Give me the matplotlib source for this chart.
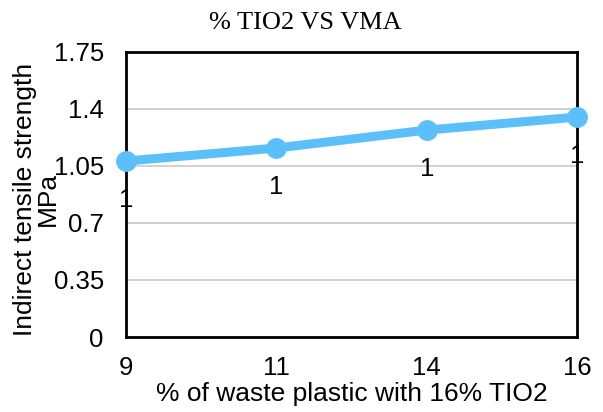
import matplotlib
matplotlib.use("Agg")
import matplotlib.pyplot as plt

# waste plastic content (%) and indirect tensile strength (MPa)
plastic_pct = ["9", "11", "14", "16"]
its_mpa = [1.08, 1.16, 1.27, 1.35]
y_ticks = [0, 0.35, 0.7, 1.05, 1.4, 1.75]
y_tick_labels = ["0", "0.35", "0.7", "1.05", "1.4", "1.75"]

plt.rcParams["font.family"] = "Liberation Sans"

fig = plt.figure(figsize=(6.03, 4.12), dpi=100)
ax = fig.add_axes([0.209, 0.182, 0.748, 0.692])

xs = range(len(plastic_pct))
ax.plot(xs, its_mpa, color="#5BC0F9", lw=6.5, marker="o", ms=14,
        solid_capstyle="round", clip_on=False, zorder=4)

for x, v in zip(xs, its_mpa):
    ax.annotate(f"{v:.0f}", (x, v), xytext=(0, -28), textcoords="offset points",
                ha="center", va="center", fontsize=18.5, zorder=3,
                annotation_clip=False)

ax.set_xlim(0, len(plastic_pct) - 1)
ax.set_ylim(0, 1.75)
ax.set_xticks(list(xs))
ax.set_xticklabels(plastic_pct)
ax.set_yticks(y_ticks)
ax.set_yticklabels(y_tick_labels)
ax.tick_params(axis="both", length=0, labelsize=18.5)
ax.tick_params(axis="y", pad=16)
ax.tick_params(axis="x", pad=14)

ax.yaxis.grid(True, color="#C8C8C8", lw=1.2)
ax.set_axisbelow(True)
for s in ax.spines.values():
    s.set_color("black")
    s.set_linewidth(2)

ax.set_xlabel("% of waste plastic with 16% TIO2", fontsize=19, labelpad=1)
fig.text(0.060, 0.517, "Indirect tensile strength\nMPa", rotation=90,
         ha="center", va="center", multialignment="center",
         fontsize=19, linespacing=0.95)
fig.text(0.506, 0.945, "% TIO2 VS VMA", family="Liberation Serif",
         fontsize=19, ha="center", va="center")

fig.savefig("out.png", dpi=100)
